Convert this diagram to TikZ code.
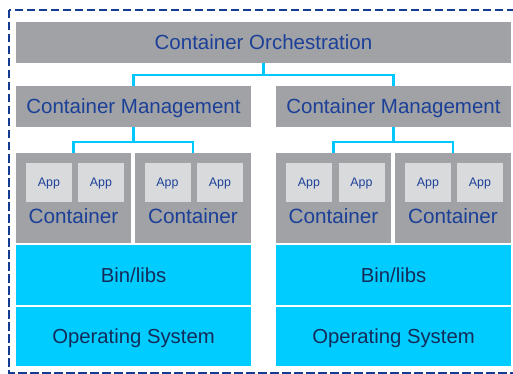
\documentclass[tikz,border=0pt]{standalone}
\usepackage{fontspec}
\setmainfont{Liberation Sans}
\definecolor{boxgray}{RGB}{160,162,165}
\definecolor{appgray}{RGB}{217,218,220}
\definecolor{cyanfill}{RGB}{0,204,255}
\definecolor{conncyan}{RGB}{0,200,255}
\definecolor{txtblue}{RGB}{28,64,152}
\definecolor{txtnavy}{RGB}{20,44,90}
\definecolor{bordernavy}{RGB}{20,60,146}
\tikzset{
  graybox/.style={fill=boxgray, draw=none, inner sep=0pt, text height=14.7pt, text depth=0pt, text=txtblue, font=\fontsize{20.5}{24}\selectfont},
  appbox/.style={fill=appgray, draw=none, inner sep=0pt, text height=8.9pt, text depth=0pt, minimum width=46pt, minimum height=39pt, text=txtblue, font=\fontsize{12.4}{14}\selectfont},
  contbox/.style={fill=boxgray, draw=none, inner sep=0pt, minimum height=90pt},
  contlabel/.style={inner sep=0pt, text height=14.8pt, text depth=0pt, text=txtblue, font=\fontsize{20.7}{24}\selectfont},
  cyanbox/.style={fill=cyanfill, draw=none, inner sep=0pt, text height=14.5pt, text depth=0pt, minimum width=235pt, text=txtnavy, font=\fontsize{20.3}{24}\selectfont},
  conn/.style={draw=conncyan, line width=2.5pt},
  border/.style={draw=bordernavy, line width=2.8pt, dash pattern=on 8.5pt off 3.5pt}
}
\begin{document}
\begin{tikzpicture}[x=1pt,y=-1pt]
\useasboundingbox (0,0) rectangle (513,374);
\fill[white] (0,0) rectangle (513,374);
\coordinate (bnw) at (9,10);
\coordinate (bse) at (535,373);
\draw[border] (bnw) rectangle (bse);

\node[graybox, minimum width=495pt, minimum height=41pt] (orch) at (263.5,42.5) {Container Orchestration};
\node[graybox, minimum width=235pt, minimum height=41pt] (cmL) at (133.5,106.5) {Container Management};
\node[graybox, minimum width=235pt, minimum height=41pt] (cmR) at (393.5,106.5) {Container Management};

\node[contbox, minimum width=115pt] (cL1) at (73.5,198) {};
\node[contbox, minimum width=116pt] (cL2) at (193,198) {};
\node[contbox, minimum width=115pt] (cR1) at (333.5,198) {};
\node[contbox, minimum width=116pt] (cR2) at (453,198) {};

\node[contlabel] (tL1) at (73.5,216.5) {Container};
\node[contlabel] (tL2) at (193,216.5) {Container};
\node[contlabel] (tR1) at (333.5,216.5) {Container};
\node[contlabel] (tR2) at (453,216.5) {Container};

\node[appbox] (a1) at (49,182.5) {App};
\node[appbox] (a2) at (101,182.5) {App};
\node[appbox] (a3) at (167.5,182.5) {App};
\node[appbox] (a4) at (220,182.5) {App};
\node[appbox] (a5) at (309,182.5) {App};
\node[appbox] (a6) at (361.5,182.5) {App};
\node[appbox] (a7) at (428,182.5) {App};
\node[appbox] (a8) at (480,182.5) {App};

\node[cyanbox, minimum height=60pt] (binL) at (133.5,275) {Bin/libs};
\node[cyanbox, minimum height=60pt] (binR) at (393.5,275) {Bin/libs};
\node[cyanbox, minimum height=59pt] (osL) at (133.5,336.5) {Operating System};
\node[cyanbox, minimum height=59pt] (osR) at (393.5,336.5) {Operating System};

\coordinate (j0) at (263.5,75);
\coordinate (j1) at (133.5,142);
\coordinate (j2) at (393.5,142);
\draw[conn] (orch.south) -- (j0) -| (cmL.north);
\draw[conn] (j0) -| (cmR.north);
\draw[conn] (cmL.south) -- (j1) -| (cL1.north);
\draw[conn] (j1) -| (cL2.north);
\draw[conn] (cmR.south) -- (j2) -| (cR1.north);
\draw[conn] (j2) -| (cR2.north);
\end{tikzpicture}
\end{document}
